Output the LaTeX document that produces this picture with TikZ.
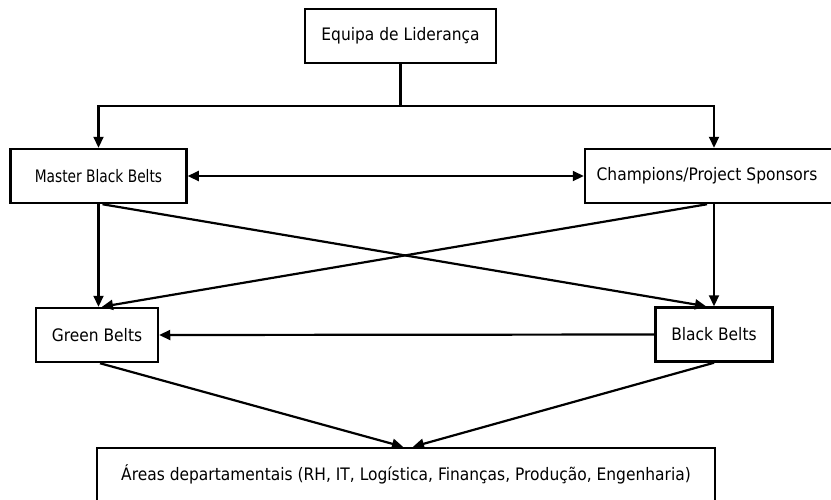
\documentclass[tikz,border=0pt]{standalone}
\usepackage{fontspec}
\setmainfont{DejaVu Sans}[FakeStretch=0.9]
\newfontfamily\tightfont{DejaVu Sans}[FakeStretch=0.8]
\usetikzlibrary{arrows.meta}
\tikzset{
  orgbox/.style={draw, line width=2.5pt, fill=white, minimum height=54pt,
    inner sep=0pt, font=\fontsize{17.2}{20}\selectfont},
  link/.style={line width=2.2pt, -{Triangle[length=11pt,width=10pt]}},
  both/.style={line width=2.2pt, {Triangle[length=11pt,width=10pt]}-{Triangle[length=11pt,width=10pt]}},
  plain/.style={line width=2.2pt}
}
\begin{document}
\begin{tikzpicture}[x=1pt,y=-1pt]
  \useasboundingbox (0,0) rectangle (831,499);
  \clip (0,0) rectangle (831,499);
  \fill[white] (0,0) rectangle (831,499);

  % boxes
  \node[orgbox, minimum width=191pt] (lead)  at (400.5,36)  {Equipa de Liderança};
  \node[orgbox, minimum width=176pt] (mbb)   at (98.5,176)  {\tightfont Master Black Belts};
  \node[orgbox, minimum width=258pt] (champ) at (714,176)   {\hspace*{-14pt}Champions/Project Sponsors};
  \node[orgbox, minimum width=122pt] (gb)    at (97,335)    {Green Belts};
  \node[orgbox, minimum width=117pt] (bb)    at (714,334.5) {Black Belts};
  \node[orgbox, minimum width=618pt] (areas) at (406,475)   {\raisebox{5pt}{Áreas departamentais (RH, IT, Logística, Finanças, Produção, Engenharia)}};

  % split below the leadership box
  \coordinate (split) at (lead.south |- 0,106);
  \draw[plain] (lead.south) -- (split);
  \draw[link] (split) -| (mbb.north);
  \draw[link] (split) -| (champ.north);

  % link between the two upper roles
  \draw[both] (mbb.east) -- (champ.west);

  % vertical and crossing links to the belt levels
  \draw[link] (mbb.south) -- (mbb.south |- gb.north);
  \draw[link] (champ.south) -- (champ.south |- bb.north);
  \draw[link] ([xshift=4pt]mbb.south) -- ([xshift=-8pt]bb.north);
  \draw[link] ([xshift=-7pt]champ.south) -- ([xshift=5pt]gb.north);

  % black belts to green belts
  \draw[link] (bb.west) -- (gb.east);

  % belts to departmental areas
  \draw[link] ([xshift=3pt]gb.south) -- ([xshift=-3pt]areas.north);
  \draw[link] (bb.south) -- ([xshift=7pt]areas.north);
\end{tikzpicture}
\end{document}
